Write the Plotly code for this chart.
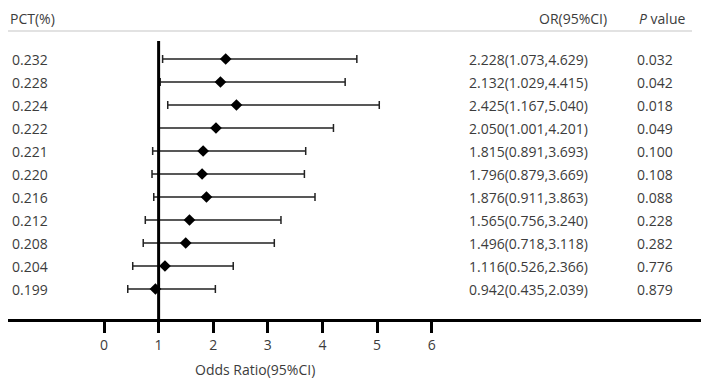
import plotly.graph_objects as go

pct = ["0.232", "0.228", "0.224", "0.222", "0.221", "0.220", "0.216", "0.212", "0.208", "0.204", "0.199"]
or_val = [2.228, 2.132, 2.425, 2.050, 1.815, 1.796, 1.876, 1.565, 1.496, 1.116, 0.942]
ci_low = [1.073, 1.029, 1.167, 1.001, 0.891, 0.879, 0.911, 0.756, 0.718, 0.526, 0.435]
ci_high = [4.629, 4.415, 5.040, 4.201, 3.693, 3.669, 3.863, 3.240, 3.118, 2.366, 2.039]
p_vals = ["0.032", "0.042", "0.018", "0.049", "0.100", "0.108", "0.088", "0.228", "0.282", "0.776", "0.879"]
x_ticks = [0, 1, 2, 3, 4, 5, 6]

# page body has an 8px margin, so the figure is drawn at (8, 8) in the window
OFF = 8
W, H = 709 - OFF, 380 - OFF
PX_PER = 54.62
X0PX = 104 - OFF
ROW0, ROWSTEP = 59 - OFF, 23

def px(v):
    return v - OFF

def xd(p):  # figure pixel -> data x
    return (p - X0PX) / PX_PER

def yd(p):  # figure pixel -> data y (row index)
    return (p - ROW0) / ROWSTEP

rows = list(range(len(pct)))
or_text = [f"{o:.3f}({l:.3f},{h:.3f})" for o, l, h in zip(or_val, ci_low, ci_high)]

FONT = "Open Sans, Segoe UI, sans-serif"
TXT = "#3c3c3c"

fig = go.Figure()
fig.add_trace(go.Scatter(
    x=or_val, y=rows, mode="markers",
    marker=dict(symbol="diamond", size=9, color="black"),
    error_x=dict(type="data", symmetric=False,
                 array=[h - o for h, o in zip(ci_high, or_val)],
                 arrayminus=[o - l for o, l in zip(or_val, ci_low)],
                 color="#222", thickness=1.5, width=4),
    showlegend=False, hoverinfo="skip",
))

left_px, right_px = px(8), px(708)
dom0, dom1 = left_px / W, min(right_px / W, 1.0)
axis_py = px(320)
fig.update_layout(
    width=W, height=H, margin=dict(l=0, r=0, t=0, b=0),
    paper_bgcolor="white", plot_bgcolor="white",
    font=dict(family=FONT, size=14, color=TXT),
    xaxis=dict(domain=[max(dom0, 0), dom1], range=[xd(max(left_px, 0)), xd(right_px)],
               anchor="free", position=(H - axis_py) / H,
               showline=True, linecolor="black", linewidth=3,
               ticks="outside", ticklen=11, tickwidth=3, tickcolor="black",
               tickvals=x_ticks, ticktext=[str(t) for t in x_ticks],
               tickfont=dict(family=FONT, size=14, color=TXT),
               showgrid=False, zeroline=False),
    yaxis=dict(domain=[0, 1], range=[yd(H), yd(0)], visible=False,
               showgrid=False, zeroline=False),
)

# reference line at OR = 1
fig.add_shape(type="line", xref="x", yref="y", x0=1, x1=1,
              y0=yd(px(41)), y1=yd(axis_py), line=dict(color="black", width=3))
# header separator
fig.add_shape(type="line", xref="paper", yref="y", x0=0, x1=px(692) / W,
              y0=yd(px(31)), y1=yd(px(31)), line=dict(color="#d9d9d9", width=1.5))

def ann(text, xpx, y, anchor="left"):
    fig.add_annotation(text=text, x=px(xpx) / W, xref="paper", y=y, yref="y",
                       xanchor=anchor, yanchor="middle", showarrow=False,
                       font=dict(family=FONT, size=14, color=TXT))

HEAD_Y = yd(px(18))
ann("PCT(%)", 8, HEAD_Y)
ann("OR(95%CI)", 573, HEAD_Y, "center")
ann("<i>P</i> value", 662, HEAD_Y, "center")
for r, p, o, pv in zip(rows, pct, or_text, p_vals):
    ann(p, 10, r)
    ann(o, 467, r)
    ann(pv, 655, r, "center")

fig.add_annotation(text="Odds Ratio(95%CI)", x=xd(px(255)), xref="x", y=yd(px(369)), yref="y",
                   xanchor="center", yanchor="middle", showarrow=False,
                   font=dict(family=FONT, size=14, color=TXT))

fig.write_html("out.html")
